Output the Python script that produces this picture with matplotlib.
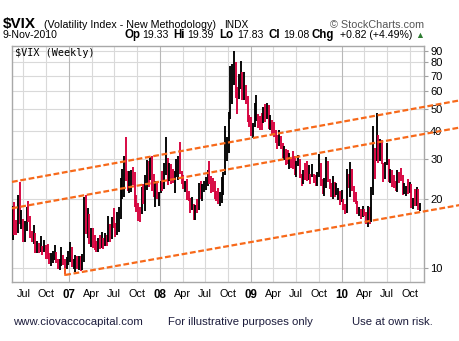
import matplotlib
matplotlib.use("Agg")
import matplotlib.pyplot as plt
import matplotlib.dates as mdates
import pandas as pd

# weekly $VIX bars, week ending Fridays, starting 19-May-2006
first_week = "2006-05-19"

high = [
    # 2006
    18.8, 19.5, 16.3, 21.0, 23.8, 18.0, 16.4, 16.1, 18.5, 19.6, 17.0, 14.6, 15.5, 14.2, 13.1, 12.9, 13.8,
    12.5, 13.3, 12.6, 12.8, 11.6, 11.6, 11.9, 12.6, 11.7, 10.9, 10.9, 12.4, 11.4, 11.0, 11.2, 11.9,
    # 2007
    13.0, 12.4, 10.9, 11.4, 11.3, 11.3, 11.3, 11.5, 20.6, 21.0, 18.3, 17.3, 15.0, 15.0, 14.0, 13.2, 13.5,
    13.9, 14.4, 13.5, 14.2, 14.0, 17.0, 15.6, 16.7, 18.3, 15.8, 17.6, 18.5, 24.8, 27.2, 30.9, 37.5, 26.6,
    26.7, 26.9, 27.9, 26.5, 20.9, 19.3, 18.5, 22.8, 23.4, 25.6, 29.8, 29.4, 30.6, 31.1, 25.9, 24.2, 24.0, 21.5,
    # 2008
    24.0, 26.6, 29.0, 37.6, 30.4, 29.0, 28.7, 27.3, 26.6, 30.2, 31.2, 35.6, 26.6, 25.5, 24.0, 24.7, 21.7,
    20.3, 20.5, 19.1, 19.0, 20.1, 23.6, 24.0, 23.3, 24.2, 25.2, 27.0, 29.5, 25.3, 24.8, 24.0, 21.8, 22.5,
    21.6, 25.0, 26.5, 42.2, 37.5, 48.4, 76.9, 78.7, 89.5, 80.3, 62.6, 71.0, 81.5, 72.7, 72.6, 64.0, 57.0, 47.0,
    # 2009
    46.0, 43.3, 53.1, 57.4, 47.4, 46.6, 48.0, 51.0, 52.7, 53.2, 51.9, 47.0, 44.7, 44.0, 40.4, 38.4, 40.5,
    38.0, 35.4, 34.5, 33.3, 33.1, 31.9, 30.2, 32.6, 31.2, 29.4, 31.5, 30.1, 25.8, 27.0, 28.9, 29.5, 28.3,
    26.0, 28.5, 26.0, 25.7, 26.4, 31.6, 28.8, 24.7, 24.9, 30.7, 29.5, 24.7, 23.6, 25.4, 23.9, 23.6, 22.4, 21.7,
    # 2010
    22.0, 20.2, 19.2, 27.3, 26.0, 29.2, 27.3, 23.0, 21.5, 19.7, 18.6, 18.2, 18.7, 18.2, 17.6, 18.7, 18.6,
    22.8, 42.2, 33.6, 48.2, 38.3, 36.8, 36.6, 28.9, 29.3, 35.4, 30.2, 27.1, 26.9, 25.6, 24.1, 27.0, 26.5,
    27.6, 25.6, 23.6, 23.0, 24.6, 23.9, 23.5, 20.4, 22.2, 22.8, 22.3, 19.39,
]

low = [
    # 2006
    13.3, 14.0, 13.9, 14.2, 15.6, 14.9, 13.0, 13.0, 14.5, 16.0, 13.5, 13.0, 12.8, 11.6, 11.6, 11.6, 11.7,
    11.4, 11.8, 11.0, 11.0, 10.4, 10.2, 10.5, 10.8, 10.5, 9.9, 9.8, 10.2, 10.3, 9.39, 9.9, 10.3,
    # 2007
    10.6, 10.1, 9.9, 9.6, 9.9, 9.8, 9.7, 9.8, 10.6, 14.1, 13.6, 12.7, 12.4, 12.3, 12.0, 11.7, 11.7,
    12.1, 12.2, 12.1, 12.5, 12.5, 13.0, 13.0, 13.4, 15.0, 13.7, 14.0, 14.4, 16.5, 20.1, 20.5, 24.0, 21.7,
    21.3, 21.5, 23.1, 18.5, 17.7, 16.1, 15.9, 17.3, 19.1, 17.8, 22.1, 22.7, 24.4, 21.8, 20.6, 18.6, 20.0, 18.8,
    # 2008
    21.3, 21.8, 22.3, 25.7, 23.1, 24.0, 23.5, 23.6, 21.3, 25.1, 24.4, 26.0, 23.3, 22.3, 21.5, 19.9, 19.6,
    17.4, 17.9, 16.3, 16.3, 17.5, 17.9, 20.2, 19.6, 21.6, 22.1, 23.0, 23.5, 21.3, 21.5, 20.0, 19.7, 19.2,
    18.8, 19.3, 21.0, 25.6, 29.5, 32.0, 45.0, 52.6, 63.9, 55.7, 47.7, 55.4, 61.0, 54.6, 55.0, 52.3, 44.0, 41.5,
    # 2009
    38.0, 37.2, 41.7, 44.4, 41.1, 40.5, 40.2, 43.5, 43.8, 45.0, 40.9, 40.5, 38.4, 37.5, 35.4, 33.2, 34.4,
    33.4, 30.5, 29.7, 28.4, 28.6, 27.1, 27.5, 27.1, 25.5, 25.2, 28.0, 24.9, 22.9, 23.5, 24.3, 24.0, 24.3,
    23.3, 25.0, 23.6, 22.9, 22.9, 25.0, 22.9, 21.2, 20.7, 22.5, 23.9, 22.2, 20.5, 20.1, 20.6, 20.9, 19.9, 19.0,
    # 2010
    19.5, 18.0, 17.2, 17.4, 22.5, 20.6, 21.7, 19.5, 19.2, 17.3, 16.9, 16.5, 16.7, 16.9, 15.6, 15.2, 15.6,
    15.9, 21.0, 24.5, 29.5, 29.0, 29.5, 28.7, 23.9, 24.7, 28.3, 23.9, 23.7, 22.7, 22.5, 21.8, 21.5, 23.7,
    24.0, 21.0, 21.2, 20.7, 21.2, 21.3, 18.3, 18.2, 18.8, 18.7, 18.0, 17.83,
]

close = [
    # 2006
    17.2, 14.3, 14.2, 17.0, 15.8, 15.9, 13.1, 14.8, 17.7, 16.8, 13.6, 13.3, 14.1, 11.6, 12.2, 11.9, 12.2,
    11.6, 12.3, 12.0, 11.7, 10.6, 10.8, 11.1, 11.8, 10.8, 10.0, 10.3, 11.3, 10.6, 10.0, 10.9, 11.6,
    # 2007
    12.1, 10.2, 10.4, 11.1, 10.1, 11.1, 10.0, 11.2, 18.6, 14.3, 16.8, 12.8, 14.6, 12.6, 12.5, 12.1, 13.1,
    12.9, 13.0, 12.3, 13.5, 12.8, 14.8, 13.3, 16.4, 16.2, 14.1, 15.2, 17.6, 24.2, 25.2, 28.2, 25.2, 22.5,
    23.4, 26.2, 26.0, 19.0, 18.0, 17.5, 17.0, 22.0, 19.9, 23.2, 28.5, 24.7, 26.8, 22.9, 20.9, 22.6, 20.3, 20.5,
    # 2008
    23.9, 23.7, 27.2, 29.0, 24.0, 28.0, 25.0, 24.1, 26.5, 27.5, 27.8, 26.3, 25.7, 22.5, 23.5, 20.4, 20.1,
    18.2, 19.1, 16.5, 18.9, 17.8, 23.6, 20.8, 22.2, 23.4, 23.5, 26.7, 24.9, 22.9, 22.6, 20.7, 20.0, 19.8,
    20.7, 23.1, 25.7, 32.1, 34.7, 45.1, 69.9, 70.3, 79.1, 59.9, 56.1, 66.3, 72.7, 55.3, 59.9, 54.3, 44.9, 43.4,
    # 2009
    39.2, 42.8, 46.1, 47.3, 44.8, 43.4, 42.9, 50.0, 46.4, 49.3, 42.4, 45.9, 40.0, 39.7, 37.0, 33.9, 35.3,
    35.2, 32.1, 33.1, 32.6, 28.9, 29.6, 28.2, 27.9, 25.9, 27.9, 29.0, 25.4, 23.1, 25.9, 25.4, 24.5, 25.0,
    24.8, 25.6, 24.0, 23.9, 25.6, 28.7, 23.1, 21.4, 24.2, 30.7, 24.2, 22.7, 21.0, 24.7, 21.2, 21.6, 21.7, 19.5,
    # 2010
    21.7, 18.1, 18.0, 27.3, 24.6, 26.1, 22.7, 20.0, 19.5, 17.4, 17.6, 16.9, 17.8, 17.5, 16.1, 18.4, 16.6,
    22.1, 40.9, 31.2, 40.1, 32.1, 35.5, 28.8, 25.1, 28.5, 30.1, 24.0, 26.3, 23.5, 23.4, 22.1, 26.2, 25.5,
    24.5, 21.3, 21.9, 22.0, 21.7, 22.5, 18.8, 19.1, 19.0, 21.2, 18.26, 19.08,
]

# hand-drawn trend channel (start date, start value) -> (end date, end value)
channel_dates = {
    "top": ["2006-05-16", "2011-04-20"],
    "middle": ["2006-05-16", "2011-04-20"],
    "bottom": ["2006-12-16", "2011-04-20"],
}
channel_values = {
    "top": [23.9, 54.5],
    "middle": [18.3, 41.4],
    "bottom": [9.32, 18.9],
}

y_ticks = [10, 20, 30, 40, 50, 60, 70, 80, 90]
x_tick_dates = pd.date_range("2006-07-01", "2010-10-01", freq="QS")
x_tick_labels = ["Jul", "Oct", "07", "Apr", "Jul", "Oct", "08", "Apr", "Jul", "Oct",
                 "09", "Apr", "Jul", "Oct", "10", "Apr", "Jul", "Oct"]

UP = "#000000"
DOWN = "#d6003c"
ORANGE = "#f7691a"

W, H = 460, 341


def fx(px):
    return px / W


def fy(py):
    return 1 - py / H


def main():
    plt.rcParams["font.family"] = ["Liberation Sans", "DejaVu Sans"]
    fig = plt.figure(figsize=(W / 100, H / 100), dpi=100)
    fig.patch.set_facecolor("white")
    ax = fig.add_axes([fx(12), fy(282), fx(424) - fx(12), fy(46) - fy(282)])

    dates = pd.date_range(first_week, periods=len(close), freq="W-FRI")
    colors = [UP] + [UP if close[i] >= close[i - 1] else DOWN for i in range(1, len(close))]
    ax.vlines(dates, low, high, colors=colors, linewidth=1.35, zorder=3)

    ax.set_yscale("log")
    ax.set_ylim(8.68, 94.5)
    ax.set_xlim(pd.Timestamp("2006-05-16"), pd.Timestamp("2010-11-28"))

    # grid
    for v in y_ticks:
        ax.axhline(v, color="#d9d9d9", lw=0.8, zorder=1)
    for d in x_tick_dates:
        c = "#b8b8b8" if d.month == 1 else "#d9d9d9"
        ax.axvline(d, color=c, lw=0.8, zorder=1)

    # channel lines (run past the right border like the original)
    for key in ["top", "middle", "bottom"]:
        xs = pd.to_datetime(channel_dates[key])
        ax.plot(xs, channel_values[key], color=ORANGE, lw=1.6,
                linestyle=(0, (2.6, 1.2)), clip_on=False, zorder=4)
    stub_x = pd.to_datetime(channel_dates["bottom"][0])
    ax.plot([stub_x, stub_x], [channel_values["bottom"][0], 9.9], color=ORANGE, lw=1.2, zorder=4)

    ax.yaxis.tick_right()
    ax.set_yticks(y_ticks)
    ax.set_yticklabels([str(v) for v in y_ticks])
    ax.yaxis.set_minor_locator(matplotlib.ticker.NullLocator())
    ax.tick_params(axis="y", which="major", length=3, width=0.8, color="#a0a0a0",
                   labelsize=8, pad=1.5, labelcolor="#000000")

    ax.set_xticks(x_tick_dates)
    ax.set_xticklabels(x_tick_labels)
    ax.tick_params(axis="x", length=0, labelsize=7.8, pad=5)
    for lab in ax.get_xticklabels():
        if lab.get_text().isdigit():
            lab.set_fontweight("bold")
            lab.set_fontsize(8.3)

    for s in ax.spines.values():
        s.set_color("#a8a8a8")
        s.set_linewidth(1.0)

    ax.text(0.007, 0.99, "$VIX (Weekly)", transform=ax.transAxes, ha="left", va="top",
            fontsize=7.3, family="DejaVu Sans Mono", zorder=5)

    # header
    fig.text(fx(3), fy(28), "$VIX", fontsize=11, fontweight="bold", va="baseline")
    fig.text(fx(44), fy(28), "(Volatility Index - New Methodology)", fontsize=7.7, va="baseline")
    fig.text(fx(224), fy(28), "INDX", fontsize=7.3, va="baseline")
    fig.text(fx(424), fy(28), "\u00a9 StockCharts.com", fontsize=7.8, va="baseline",
             ha="right", color="#555555")
    fig.text(fx(3), fy(38), "9-Nov-2010", fontsize=7.6, va="baseline")
    parts = [(125, "Op", True), (142, "19.33", False), (173, "Hi", True), (187, "19.39", False),
             (219, "Lo", True), (237, "17.83", False), (269, "Cl", True), (283, "19.08", False),
             (312, "Chg", True), (340, "+0.82 (+4.49%)", False)]
    for px, s, b in parts:
        fig.text(fx(px), fy(38), s, fontsize=8.3 if b else 7.6,
                 fontweight="bold" if b else "normal", va="baseline")
    fig.text(fx(420), fy(35), "\u25b2", fontsize=6.5, color="#2e7d32", ha="center", va="center")

    # footer
    foot = "#1c1c3c"
    fig.text(fx(13), fy(325), "www.ciovaccocapital.com", fontsize=8.2, va="baseline", color=foot)
    fig.text(fx(168), fy(325), "For illustrative purposes only", fontsize=8.2, va="baseline", color=foot)
    fig.text(fx(352), fy(325), "Use at own risk.", fontsize=8.2, va="baseline", color=foot)

    fig.savefig("out.png", dpi=100)


if __name__ == "__main__":
    main()
